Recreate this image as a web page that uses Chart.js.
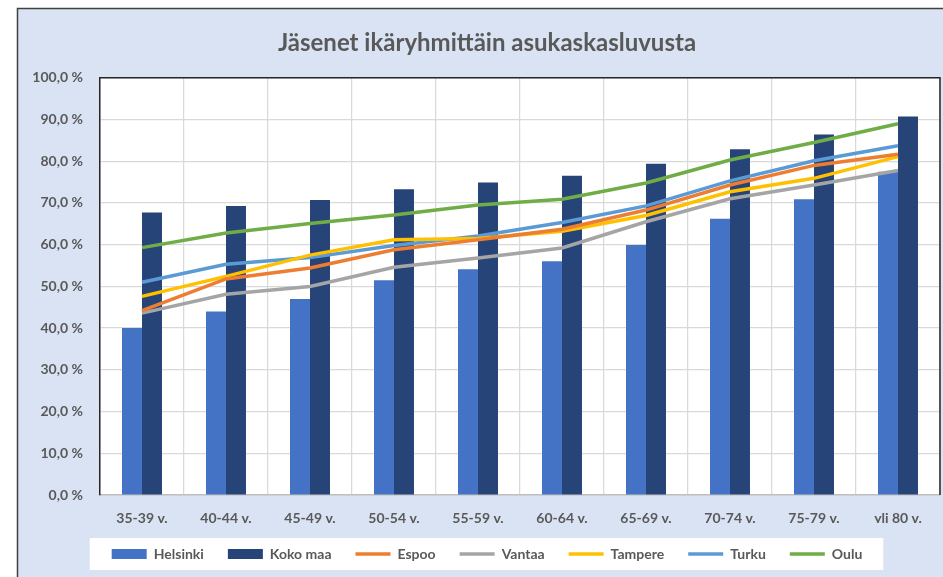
<!DOCTYPE html>
<html>
<head>
<meta charset="utf-8">
<script src="https://cdn.jsdelivr.net/npm/chart.js@4/dist/chart.umd.min.js"></script>
<style>
  html, body { margin: 0; padding: 0; background: #ffffff; overflow: hidden; width: 943px; height: 577px; }
  canvas { display: block; }
</style>
</head>
<body>
<canvas id="c" width="960" height="582" style="width:960px;height:582px"></canvas>
<script>
const categories = ['35-39 v.', '40-44 v.', '45-49 v.', '50-54 v.', '55-59 v.', '60-64 v.', '65-69 v.', '70-74 v.', '75-79 v.', 'yli 80 v.'];
const helsinki = [40.0, 44.0, 47.0, 51.5, 54.1, 56.0, 59.9, 66.2, 70.9, 77.5];
const kokoMaa  = [67.7, 69.3, 70.7, 73.3, 74.9, 76.5, 79.4, 82.9, 86.4, 90.7];
const espoo    = [44.2, 51.8, 54.4, 58.8, 61.2, 63.7, 68.3, 74.3, 79.0, 81.7];
const vantaa   = [43.6, 48.1, 50.0, 54.6, 56.8, 59.2, 65.5, 71.0, 74.3, 77.8];
const tampere  = [47.6, 52.4, 57.5, 61.2, 61.5, 63.2, 67.0, 72.7, 75.9, 81.1];
const turku    = [51.0, 55.3, 56.9, 59.8, 62.1, 65.3, 69.3, 75.3, 80.1, 83.7];
const oulu     = [59.3, 62.8, 65.1, 67.1, 69.5, 70.9, 74.8, 80.3, 84.5, 89.0];
const yTicks   = [0, 10, 20, 30, 40, 50, 60, 70, 80, 90, 100];
const titleText = 'Jäsenet ikäryhmittäin asukaskasluvusta';

const FONT = 'Lato, "Open Sans", sans-serif';
const TXT = '#595959';

function lineDs(label, data, color) {
  return { type: 'line', label, data, borderColor: color, backgroundColor: color,
    borderWidth: 3.5, pointRadius: 0, pointHoverRadius: 0, tension: 0, fill: false,
    pointStyle: 'line', order: 1 };
}

const bgPlugin = {
  id: 'bg',
  beforeDraw(chart) {
    const ctx = chart.ctx, ca = chart.chartArea;
    ctx.save();
    ctx.fillStyle = '#ffffff';
    ctx.fillRect(0, 0, chart.width, chart.height);
    ctx.fillStyle = '#DAE3F3';
    ctx.fillRect(17, 8, chart.width - 17, chart.height - 8);
    ctx.strokeStyle = '#404040';
    ctx.lineWidth = 1.5;
    ctx.beginPath();
    ctx.moveTo(17.5, chart.height);
    ctx.lineTo(17.5, 8.5);
    ctx.lineTo(chart.width, 8.5);
    ctx.stroke();
    ctx.fillStyle = '#ffffff';
    ctx.fillRect(ca.left, ca.top, ca.right - ca.left, ca.bottom - ca.top);
    const lg = chart.legend;
    if (lg && lg.legendHitBoxes && lg.legendHitBoxes.length) {
      const hb = lg.legendHitBoxes;
      let minX = Infinity, maxX = -Infinity, minY = Infinity, maxY = -Infinity;
      hb.forEach(b => { minX = Math.min(minX, b.left); maxX = Math.max(maxX, b.left + b.width);
        minY = Math.min(minY, b.top); maxY = Math.max(maxY, b.top + b.height); });
      ctx.fillStyle = '#ffffff';
      ctx.fillRect(minX - 22, minY - 9, (maxX - minX) + 43, (maxY - minY) + 18);
    }
    ctx.restore();
  },
  afterDraw(chart) {
    const ctx = chart.ctx, ca = chart.chartArea;
    ctx.save();
    ctx.strokeStyle = '#262626';
    ctx.lineWidth = 1.5;
    ctx.beginPath();
    ctx.moveTo(ca.left, ca.top);
    ctx.lineTo(ca.right, ca.top);
    ctx.lineTo(ca.right, ca.bottom);
    ctx.stroke();
    ctx.restore();
  }
};

new Chart(document.getElementById('c'), {
  data: {
    labels: categories,
    datasets: [
      { type: 'bar', label: 'Helsinki', data: helsinki, backgroundColor: '#4472C4', borderWidth: 0,
        pointStyle: 'rect', order: 2, barPercentage: 1.0, categoryPercentage: 0.476 },
      { type: 'bar', label: 'Koko maa', data: kokoMaa, backgroundColor: '#264478', borderWidth: 0,
        pointStyle: 'rect', order: 2, barPercentage: 1.0, categoryPercentage: 0.476 },
      lineDs('Espoo', espoo, '#ED7D31'),
      lineDs('Vantaa', vantaa, '#A5A5A5'),
      lineDs('Tampere', tampere, '#FFC000'),
      lineDs('Turku', turku, '#5B9BD5'),
      lineDs('Oulu', oulu, '#70AD47')
    ]
  },
  options: {
    responsive: false,
    animation: false,
    events: [],
    layout: { padding: { left: 17, top: 8, right: 3, bottom: 11 } },
    plugins: {
      title: { display: true, text: titleText, color: TXT,
        font: { family: FONT, size: 24, weight: 'bold' }, padding: { top: 21, bottom: 20 } },
      legend: { position: 'bottom',
        labels: { usePointStyle: true, pointStyleWidth: 35, boxHeight: 10, padding: 24, color: TXT,
          sort: (a, b) => a.datasetIndex - b.datasetIndex,
          font: { family: FONT, size: 14, weight: 'bold' } } },
      tooltip: { enabled: false }
    },
    scales: {
      x: {
        grid: { color: '#D9D9D9', lineWidth: 1.25, drawTicks: false, offset: true },
        border: { color: '#BFBFBF', width: 1.5 },
        ticks: { color: TXT, padding: 15, font: { family: FONT, size: 14, weight: 'bold' } },
        afterFit(s) { s.height = 28; }
      },
      y: {
        min: 0, max: 100,
        afterBuildTicks(s) { s.ticks = yTicks.map(v => ({ value: v })); },
        grid: { color: '#D9D9D9', lineWidth: 1.25, drawTicks: false },
        border: { color: '#262626', width: 1.5 },
        ticks: { color: TXT, padding: 17, font: { family: FONT, size: 14, weight: 'bold' },
          callback: v => v.toFixed(1).replace('.', ',') + ' %' },
        afterFit(s) { s.width = 83; }
      },
      y2: {
        position: 'right', display: true,
        grid: { display: false, drawTicks: false }, border: { display: false },
        ticks: { display: false },
        afterFit(s) { s.width = 17; }
      }
    }
  },
  plugins: [bgPlugin]
});
</script>
</body>
</html>
